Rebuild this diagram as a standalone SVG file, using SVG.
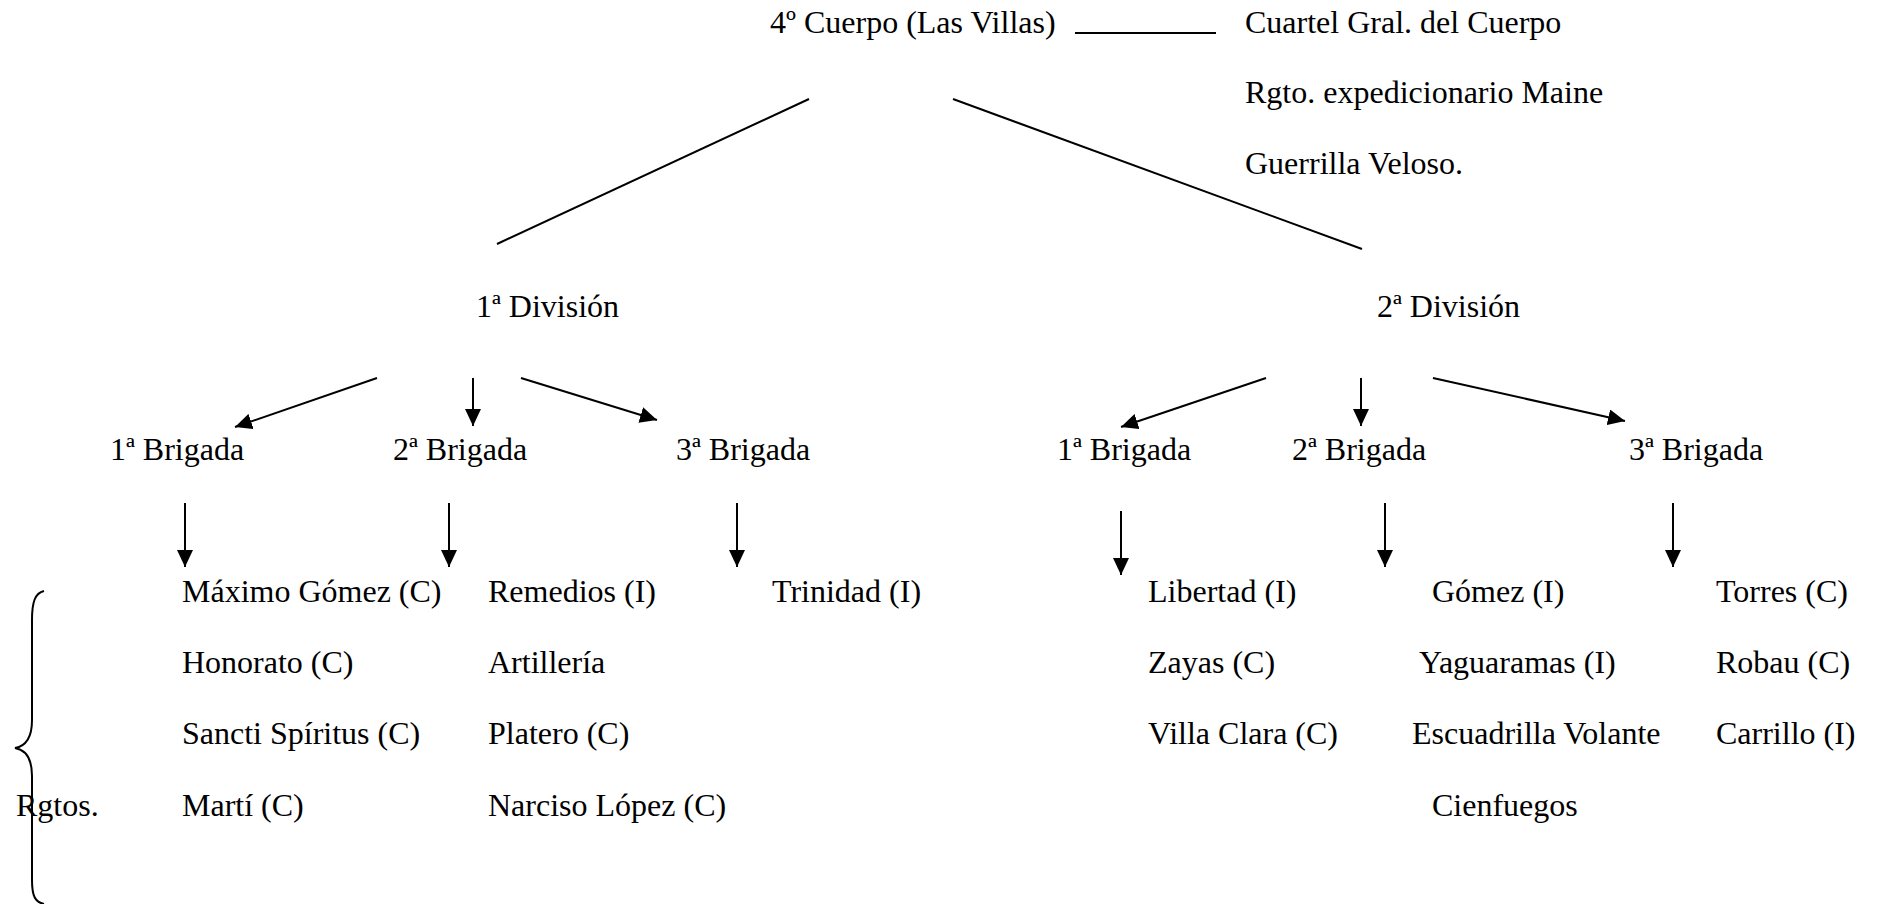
<svg xmlns="http://www.w3.org/2000/svg" width="1877" height="904" viewBox="0 0 1877 904">
  <style>
    text { font-family: "Liberation Serif", "Times New Roman", serif; font-size: 32px; fill: #000; }
    .ln { stroke: #000; stroke-width: 2; fill: none; }
    .ar { stroke: #000; stroke-width: 2; fill: none; marker-end: url(#head); }
  </style>
  <defs>
    <marker id="head" markerUnits="userSpaceOnUse" markerWidth="18" markerHeight="16" refX="17" refY="8" orient="auto">
      <path d="M0,0 L17,8 L0,16 z" fill="#000"/>
    </marker>
  </defs>
  <rect width="1877" height="904" fill="#fff"/>

  <!-- connectors -->
  <g id="connectors">
    <line class="ln" x1="1075" y1="33" x2="1216" y2="33"/>
    <line class="ln" x1="809" y1="99" x2="497" y2="244"/>
    <line class="ln" x1="953" y1="99" x2="1362" y2="249"/>
    <!-- 1st division to brigades -->
    <line class="ar" x1="377" y1="378" x2="235" y2="427"/>
    <line class="ar" x1="473" y1="378" x2="473" y2="426"/>
    <line class="ar" x1="521" y1="378" x2="657" y2="420"/>
    <!-- 2nd division to brigades -->
    <line class="ar" x1="1266" y1="378" x2="1121" y2="427"/>
    <line class="ar" x1="1361" y1="378" x2="1361" y2="426"/>
    <line class="ar" x1="1433" y1="378" x2="1625" y2="421"/>
    <!-- brigades to regiments -->
    <line class="ar" x1="185" y1="503" x2="185" y2="567"/>
    <line class="ar" x1="449" y1="503" x2="449" y2="567"/>
    <line class="ar" x1="737" y1="503" x2="737" y2="567"/>
    <line class="ar" x1="1121" y1="511" x2="1121" y2="575"/>
    <line class="ar" x1="1385" y1="503" x2="1385" y2="567"/>
    <line class="ar" x1="1673" y1="503" x2="1673" y2="567"/>
    <!-- brace grouping the regiments -->
    <path class="ln" d="M44,591 C35,593 32,602 32,620 L32,720 C32,736 27,746 15,748 C27,750 32,760 32,776 L32,880 C32,896 35,902 44,904"/>
  </g>

  <g id="cuerpo"><text x="770" y="33">4º Cuerpo (Las Villas)</text></g>
  <g id="cuartel"><text x="1245" y="33">Cuartel Gral. del Cuerpo</text></g>
  <g id="maine"><text x="1245" y="103">Rgto. expedicionario Maine</text></g>
  <g id="veloso"><text x="1245" y="174">Guerrilla Veloso.</text></g>

  <g id="div1"><text x="476" y="317">1ª División</text></g>
  <g id="div2"><text x="1377" y="317">2ª División</text></g>

  <g id="d1-b1"><text x="110" y="460">1ª Brigada</text></g>
  <g id="d1-b2"><text x="393" y="460">2ª Brigada</text></g>
  <g id="d1-b3"><text x="676" y="460">3ª Brigada</text></g>
  <g id="d2-b1"><text x="1057" y="460">1ª Brigada</text></g>
  <g id="d2-b2"><text x="1292" y="460">2ª Brigada</text></g>
  <g id="d2-b3"><text x="1629" y="460">3ª Brigada</text></g>

  <g id="d1-b1-rgtos">
    <text x="182" y="602">Máximo Gómez (C)</text>
    <text x="182" y="673">Honorato (C)</text>
    <text x="182" y="744">Sancti Spíritus (C)</text>
    <text x="182" y="816">Martí (C)</text>
  </g>
  <g id="d1-b2-rgtos">
    <text x="488" y="602">Remedios (I)</text>
    <text x="488" y="673">Artillería</text>
    <text x="488" y="744">Platero (C)</text>
    <text x="488" y="816">Narciso López (C)</text>
  </g>
  <g id="d1-b3-rgtos">
    <text x="772" y="602">Trinidad (I)</text>
  </g>
  <g id="d2-b1-rgtos">
    <text x="1148" y="602">Libertad (I)</text>
    <text x="1148" y="673">Zayas (C)</text>
    <text x="1148" y="744">Villa Clara (C)</text>
  </g>
  <g id="d2-b2-rgtos">
    <text x="1432" y="602">Gómez (I)</text>
    <text x="1419" y="673">Yaguaramas (I)</text>
    <text x="1412" y="744">Escuadrilla Volante</text>
    <text x="1432" y="816">Cienfuegos</text>
  </g>
  <g id="d2-b3-rgtos">
    <text x="1716" y="602">Torres (C)</text>
    <text x="1716" y="673">Robau (C)</text>
    <text x="1716" y="744">Carrillo (I)</text>
  </g>
  <g id="rgtos-label"><text x="16" y="816">Rgtos.</text></g>
</svg>
